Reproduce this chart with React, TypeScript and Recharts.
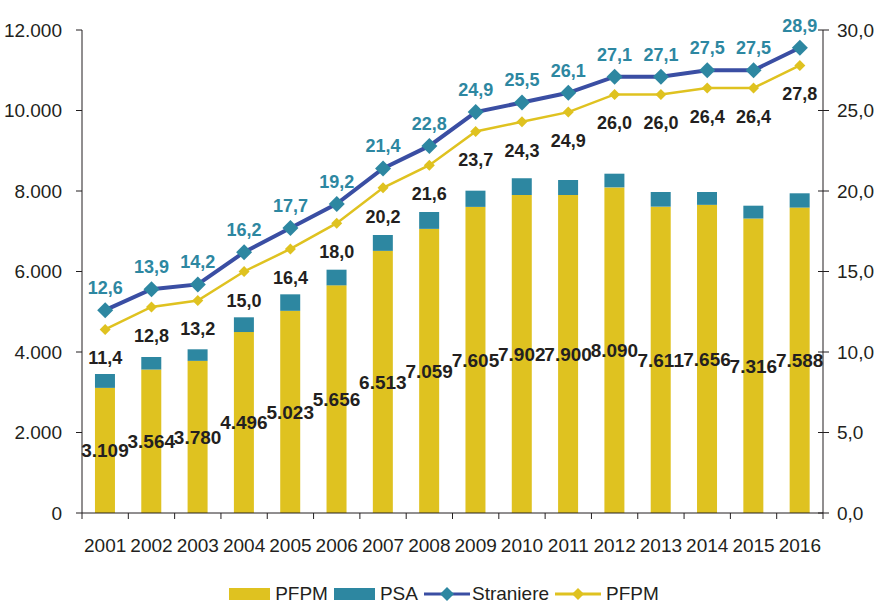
import React from "react";
import {
  ComposedChart,
  Bar,
  Line,
  XAxis,
  YAxis,
  Legend,
  LabelList,
} from "recharts";

const years = ["2001", "2002", "2003", "2004", "2005", "2006", "2007", "2008", "2009", "2010", "2011", "2012", "2013", "2014", "2015", "2016"];
const pfpmBars = [3109, 3564, 3780, 4496, 5023, 5656, 6513, 7059, 7605, 7902, 7900, 8090, 7611, 7656, 7316, 7588];
const psaBars = [344, 312, 287, 366, 410, 389, 394, 419, 403, 413, 373, 340, 364, 319, 319, 355];
const straniere = [12.6, 13.9, 14.2, 16.2, 17.7, 19.2, 21.4, 22.8, 24.9, 25.5, 26.1, 27.1, 27.1, 27.5, 27.5, 28.9];
const pfpmLine = [11.4, 12.8, 13.2, 15.0, 16.4, 18.0, 20.2, 21.6, 23.7, 24.3, 24.9, 26.0, 26.0, 26.4, 26.4, 27.8];
const leftTicks = [0, 2000, 4000, 6000, 8000, 10000, 12000];
const rightTicks = [0, 5, 10, 15, 20, 25, 30];

const YELLOW = "#dfc220";
const TEAL = "#2d87a1";
const NAVY = "#3a4ea3";
const INK = "#231f20";
const FONT = "'Liberation Sans', Arial, sans-serif";

const W = 880;
const H = 603;
const PLOT_LEFT = 82;
const PLOT_RIGHT = 823;
const HALF_BAND = (PLOT_RIGHT - PLOT_LEFT) / years.length / 2;

const data = years.map((y, i) => ({
  year: y,
  pfpm: pfpmBars[i],
  psa: psaBars[i],
  str: straniere[i],
  pfpmL: pfpmLine[i],
}));

const thousands = (v: number) => v.toLocaleString("de-DE");
const comma1 = (v: number) => v.toFixed(1).replace(".", ",");

function diamond(r: number, fill: string) {
  return (props: any) => {
    const { cx, cy, index } = props;
    if (cx == null || cy == null) return <g key={index} />;
    return (
      <path
        key={index}
        d={`M${cx},${cy - r}L${cx + r},${cy}L${cx},${cy + r}L${cx - r},${cy}Z`}
        fill={fill}
      />
    );
  };
}

const labelAt = (dy: number, color: string) => (props: any) => {
  const { x, y, value, index } = props;
  return (
    <text
      key={index}
      x={x}
      y={y + dy}
      textAnchor="middle"
      dominantBaseline="central"
      fill={color}
      fontSize={18}
      fontWeight="bold"
      fontFamily={FONT}
    >
      {comma1(value)}
    </text>
  );
};

// x ticks: label centred on the category, tick marks on the category boundaries
function YearTick(props: any) {
  const { x, y, payload, index } = props;
  const axisY = y - 26;
  return (
    <g>
      <line x1={x - HALF_BAND} y1={axisY} x2={x - HALF_BAND} y2={axisY + 6} stroke={INK} />
      {index === years.length - 1 && (
        <line x1={x + HALF_BAND} y1={axisY} x2={x + HALF_BAND} y2={axisY + 6} stroke={INK} />
      )}
      <text x={x} y={y + 13} textAnchor="middle" fill={INK} fontSize={19} fontFamily={FONT}>
        {payload.value}
      </text>
    </g>
  );
}

// right axis: ticks cross the axis line
function RightTick(props: any) {
  const { x, y, payload } = props;
  const axisX = x - 14;
  return (
    <g>
      <line x1={axisX - 5} y1={y} x2={axisX + 6} y2={y} stroke={INK} />
      <text x={x} y={y} dominantBaseline="central" fill={INK} fontSize={19} fontFamily={FONT}>
        {comma1(payload.value)}
      </text>
    </g>
  );
}

function LegendContent() {
  const item = { display: "flex", alignItems: "center", marginRight: 6 } as const;
  const txt = { fontSize: 19, color: INK, fontFamily: FONT, marginLeft: 5 };
  return (
    <div style={{ display: "flex", justifyContent: "center", paddingLeft: 14, marginTop: 4 }}>
      <div style={item}>
        <div style={{ width: 41, height: 12, background: YELLOW }} />
        <span style={txt}>PFPM</span>
      </div>
      <div style={item}>
        <div style={{ width: 41, height: 12, background: TEAL }} />
        <span style={txt}>PSA</span>
      </div>
      <div style={item}>
        <svg width={46} height={16}>
          <line x1={0} y1={8} x2={46} y2={8} stroke={NAVY} strokeWidth={3} />
          <path d="M23,1L30,8L23,15L16,8Z" fill={TEAL} />
        </svg>
        <span style={{ ...txt, marginLeft: 2 }}>Straniere</span>
      </div>
      <div style={item}>
        <svg width={46} height={16}>
          <line x1={0} y1={8} x2={46} y2={8} stroke={YELLOW} strokeWidth={3} />
          <path d="M23,2L29,8L23,14L17,8Z" fill={YELLOW} />
        </svg>
        <span style={txt}>PFPM</span>
      </div>
    </div>
  );
}

export default function App() {
  return (
    <div style={{ position: "absolute", left: 0, top: 0, width: W, height: H, background: "#fff" }}>
      <ComposedChart
        width={W}
        height={H}
        data={data}
        margin={{ top: 30, right: 0, bottom: 0, left: 0 }}
        barCategoryGap="28%"
      >
        <XAxis
          dataKey="year"
          axisLine={{ stroke: INK }}
          tickLine={false}
          tick={<YearTick />}
          height={66}
          tickSize={6}
          tickMargin={20}
        />
        <YAxis
          yAxisId="left"
          domain={[0, 12000]}
          ticks={leftTicks}
          tickFormatter={thousands}
          width={PLOT_LEFT}
          axisLine={{ stroke: INK }}
          tickLine={{ stroke: INK }}
          tickSize={6}
          tickMargin={14}
          tick={{ fontSize: 19, fill: INK, fontFamily: FONT }}
        />
        <YAxis
          yAxisId="right"
          orientation="right"
          domain={[0, 30]}
          ticks={rightTicks}
          width={W - PLOT_RIGHT}
          axisLine={{ stroke: INK }}
          tickLine={false}
          tickSize={6}
          tickMargin={8}
          tick={<RightTick />}
        />
        <Legend verticalAlign="bottom" height={24} content={<LegendContent />} />
        <Bar yAxisId="left" dataKey="pfpm" stackId="a" fill={YELLOW} isAnimationActive={false}>
          <LabelList
            dataKey="pfpm"
            position="center"
            formatter={(v: any) => thousands(v)}
            style={{ fontSize: 19, fontWeight: "bold", fill: INK, fontFamily: FONT }}
          />
        </Bar>
        <Bar yAxisId="left" dataKey="psa" stackId="a" fill={TEAL} isAnimationActive={false} />
        <Line
          yAxisId="right"
          dataKey="pfpmL"
          stroke={YELLOW}
          strokeWidth={2.5}
          dot={diamond(5.5, YELLOW)}
          activeDot={false}
          isAnimationActive={false}
        >
          <LabelList dataKey="pfpmL" content={labelAt(29, INK)} />
        </Line>
        <Line
          yAxisId="right"
          dataKey="str"
          stroke={NAVY}
          strokeWidth={4}
          dot={diamond(8, TEAL)}
          activeDot={false}
          isAnimationActive={false}
        >
          <LabelList dataKey="str" content={labelAt(-22, TEAL)} />
        </Line>
      </ComposedChart>
    </div>
  );
}
